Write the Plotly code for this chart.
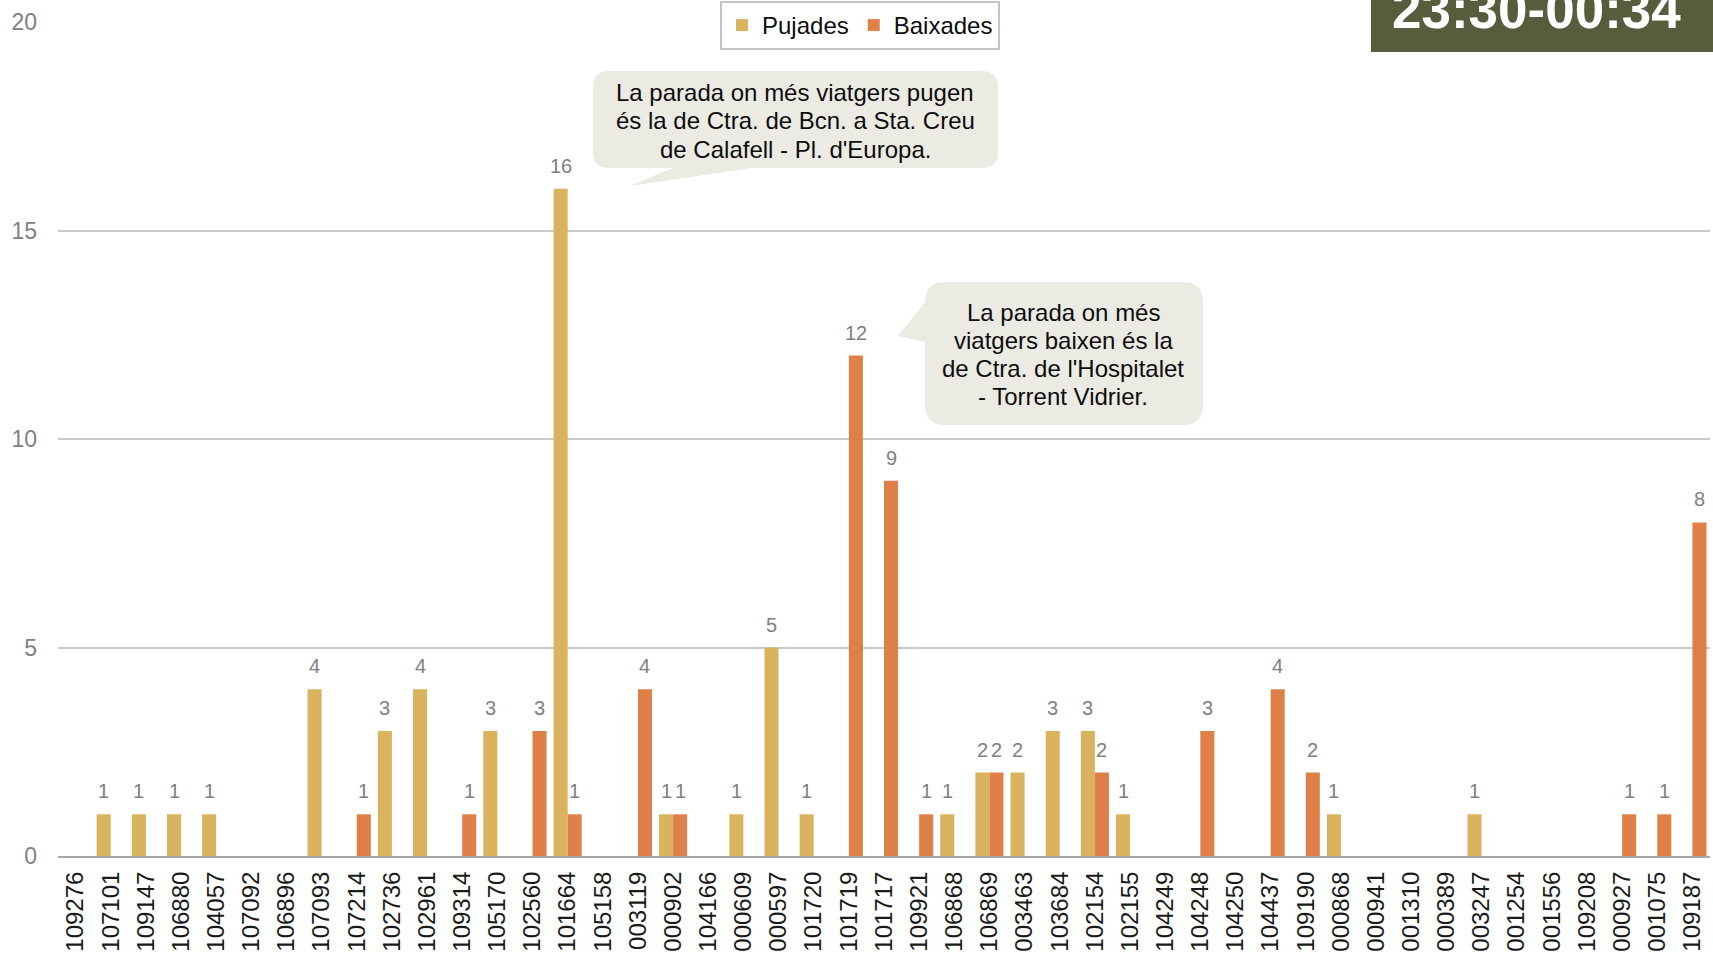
import plotly.graph_objects as go

categories = ["109276", "107101", "109147", "106880", "104057", "107092", "106896", "107093",
              "107214", "102736", "102961", "109314", "105170", "102560", "101664", "105158",
              "003119", "000902", "104166", "000609", "000597", "101720", "101719", "101717",
              "109921", "106868", "106869", "003463", "103684", "102154", "102155", "104249",
              "104248", "104250", "104437", "109190", "000868", "000941", "001310", "000389",
              "003247", "001254", "001556", "109208", "000927", "001075", "109187"]
pujades = [0, 1, 1, 1, 1, 0, 0, 4,
           0, 3, 4, 0, 3, 0, 16, 0,
           0, 1, 0, 1, 5, 1, 0, 0,
           0, 1, 2, 2, 3, 3, 1, 0,
           0, 0, 0, 0, 1, 0, 0, 0,
           1, 0, 0, 0, 0, 0, 0]
baixades = [0, 0, 0, 0, 0, 0, 0, 0,
            1, 0, 0, 1, 0, 3, 1, 0,
            4, 1, 0, 0, 0, 0, 12, 9,
            1, 0, 2, 0, 0, 2, 0, 0,
            3, 0, 4, 2, 0, 0, 0, 0,
            0, 0, 0, 0, 1, 1, 8]
series_names = ["Pujades", "Baixades"]
y_ticks = [0, 5, 10, 15, 20]
title_text = "23:30-00:34"
callout1_lines = ["La parada on més viatgers pugen",
                  "és la de Ctra. de Bcn. a Sta. Creu",
                  "de Calafell - Pl. d'Europa."]
callout2_lines = ["La parada on més",
                  "viatgers baixen és la",
                  "de Ctra. de l'Hospitalet",
                  "- Torrent Vidrier."]

COL_P = "#D9B35E"
COL_B = "#DE8048"
FONT = "Liberation Sans, Arial, sans-serif"

W, H = 1713, 953
ML, MR, MT, MB = 58, 3, 22, 97
PW = W - ML - MR
PH = H - MT - MB


def px(x):
    return (x - ML) / PW


def py(y):
    return (H - MB - y) / PH


def path_from(points):
    parts = []
    for p in points:
        if p[0] == "Q":
            (cx, cy), (x, y) = p[1], p[2]
            parts.append(f"Q{px(cx):.5f},{py(cy):.5f} {px(x):.5f},{py(y):.5f}")
        elif p[0] == "Z":
            parts.append("Z")
        else:
            x, y = p[1]
            parts.append(f"{p[0]}{px(x):.5f},{py(y):.5f}")
    return " ".join(parts)


fig = go.Figure()
fig.add_trace(go.Bar(name=series_names[0], x=categories, y=pujades,
                     marker=dict(color=COL_P, line=dict(width=0))))
fig.add_trace(go.Bar(name=series_names[1], x=categories, y=baixades,
                     marker=dict(color=COL_B, line=dict(width=0))))

annotations = []
for vals, shift in ((pujades, -7), (baixades, 7)):
    for i, v in enumerate(vals):
        if v:
            annotations.append(dict(x=i, y=v, xref="x", yref="y", text=str(v),
                                    showarrow=False, xshift=shift, yshift=10,
                                    yanchor="bottom", xanchor="center",
                                    font=dict(family=FONT, size=20, color="#808080")))

bx0, by0, bx1, by1, r = 593, 71, 998, 168, 16
callout1 = [("M", (bx0 + r, by0)), ("L", (bx1 - r, by0)), ("Q", (bx1, by0), (bx1, by0 + r)),
            ("L", (bx1, by1 - r)), ("Q", (bx1, by1), (bx1 - r, by1)),
            ("L", (752, by1)), ("L", (630, 186)), ("L", (672, by1)),
            ("L", (bx0 + r, by1)), ("Q", (bx0, by1), (bx0, by1 - r)),
            ("L", (bx0, by0 + r)), ("Q", (bx0, by0), (bx0 + r, by0)), ("Z",)]
cx0, cy0, cx1, cy1, r2 = 925, 282, 1203, 425, 20
callout2 = [("M", (cx0 + r2, cy0)), ("L", (cx1 - r2, cy0)), ("Q", (cx1, cy0), (cx1, cy0 + r2)),
            ("L", (cx1, cy1 - r2)), ("Q", (cx1, cy1), (cx1 - r2, cy1)),
            ("L", (cx0 + r2, cy1)), ("Q", (cx0, cy1), (cx0, cy1 - r2)),
            ("L", (cx0, 342)), ("L", (898, 336)), ("L", (cx0, 302)),
            ("L", (cx0, cy0 + r2)), ("Q", (cx0, cy0), (cx0 + r2, cy0)), ("Z",)]

shapes = [
    dict(type="path", xref="paper", yref="paper", path=path_from(callout1),
         fillcolor="#EBEBE4", line=dict(width=0), layer="above"),
    dict(type="path", xref="paper", yref="paper", path=path_from(callout2),
         fillcolor="#EBEBE4", line=dict(width=0), layer="above"),
    dict(type="rect", xref="paper", yref="paper", x0=px(1371), x1=px(1720),
         y0=py(52), y1=py(-20), fillcolor="#585C3D", line=dict(width=0), layer="above"),
]

for i, line in enumerate(callout1_lines):
    center = 92.0 + i * 28.7
    annotations.append(dict(x=px(795), y=py(center), xref="paper", yref="paper",
                            text=line, showarrow=False, xanchor="center", yanchor="middle",
                            font=dict(family=FONT, size=24, color="#0D0D0D")))
for i, line in enumerate(callout2_lines):
    center = 312.5 + i * 28.1
    annotations.append(dict(x=px(1063), y=py(center), xref="paper", yref="paper",
                            text=line, showarrow=False, xanchor="center", yanchor="middle",
                            font=dict(family=FONT, size=24, color="#0D0D0D")))

annotations.append(dict(x=px(1536), y=py(9.5), xref="paper", yref="paper",
                        text=f"<b>{title_text}</b>", showarrow=False,
                        xanchor="center", yanchor="middle",
                        font=dict(family=FONT, size=53, color="#FFFFFF")))

fig.update_layout(
    width=W, height=H, autosize=False,
    margin=dict(l=ML, r=MR, t=MT, b=MB, pad=0, autoexpand=False),
    paper_bgcolor="white", plot_bgcolor="white",
    barmode="group", bargap=0.2, bargroupgap=0,
    showlegend=True,
    legend=dict(orientation="h", x=px(860), xanchor="center", y=py(1), yanchor="top",
                bgcolor="white", bordercolor="#C4C4C4", borderwidth=2,
                font=dict(family=FONT, size=24, color="#0D0D0D"),
                itemwidth=30, tracegroupgap=0),
    font=dict(family=FONT),
    shapes=shapes,
    annotations=annotations,
)
fig.update_xaxes(type="category", range=[-0.5, len(categories) - 0.5], autorange=False,
                 automargin=False,
                 tickangle=-90, showgrid=False,
                 showline=True, linecolor="#A6A6A6", linewidth=2,
                 ticks="", ticklabelstandoff=4,
                 tickfont=dict(family=FONT, size=24, color="#1A1A1A"))
fig.update_yaxes(range=[0, 20], autorange=False, tickvals=y_ticks, showgrid=True,
                 automargin=False,
                 gridcolor="#CACACA", gridwidth=1.5, zeroline=False, showline=False, ticks="",
                 ticklabelstandoff=20,
                 tickfont=dict(family=FONT, size=23, color="#808080"))

fig.write_html("out.html", config={"displayModeBar": False},
               post_script="document.body.style.margin='0';")
